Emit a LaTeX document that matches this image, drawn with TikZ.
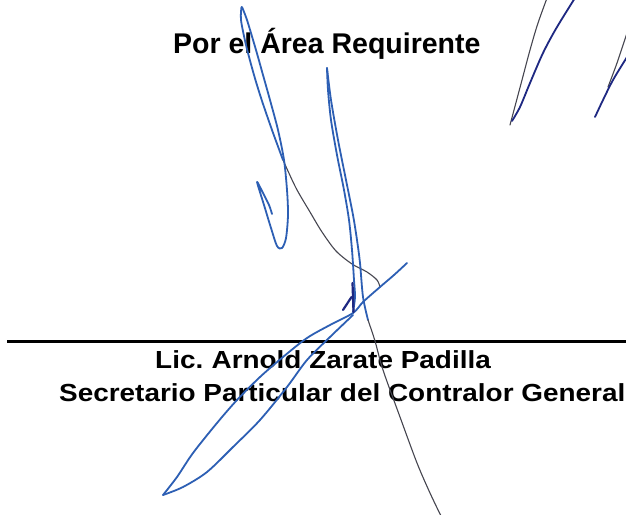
\documentclass[tikz,border=0pt]{standalone}
\usepackage{fontspec}
\setmainfont{Liberation Sans}
\newfontfamily\wideface[FakeStretch=1.13]{Liberation Sans}
\definecolor{inkblue}{RGB}{45,95,180}
\definecolor{inknavy}{RGB}{30,40,130}
\definecolor{inkgrey}{RGB}{70,70,80}
\begin{document}
\begin{tikzpicture}[x=1pt,y=-1pt,
                    ink/.style = {draw=inkblue, line width=1.8pt, line cap=round, line join=round},
                    navy/.style = {draw=inknavy, line width=1.8pt, line cap=round, line join=round},
                    faint/.style = {draw=inkgrey, line width=1.1pt, line cap=round},
                    linetext/.style = {inner sep=0pt, anchor=base west}]
                        \clip (0,0) rectangle (626,514);
                        \fill[white] (0,0) rectangle (626,514);
                        \node[linetext, font=\fontsize{28.5}{30}\selectfont\bfseries] (area) at (173,53.3) {Por el Área Requirente};
                        \node[linetext, font=\wideface\fontsize{24.7}{28}\selectfont\bfseries, xscale=1] (name) at (155,368.5) {Lic.\hspace{-2pt} Arnold Zarate Padilla};
                        \node[linetext, font=\wideface\fontsize{24.7}{28}\selectfont\bfseries] (post) at (59,401) {Secretario Particular del Contralor General};
                        \coordinate (ruleL) at (7,341.7);
                        \coordinate (ruleR) at (630,341.7);
                        \draw[line width=2.7pt] (ruleL) -- (ruleR);

                        \draw[ink] plot[smooth] coordinates {(241.5,7) (241,20) (246,45) (254,75) (261.7,100) (272,130) (283,160)};
                        \draw[faint] plot[smooth] coordinates {(283,160) (296,188) (310,212) (322,232) (336,251) (352,264) (367,272) (377,280) (380,287)};
                        \draw[ink] plot[smooth] coordinates {(242,7) (247,20) (256,50) (263,75) (270,100) (278,130) (284,160) (287,190) (288,215) (286,238) (282,248) (277,246) (271,228) (264,205) (257,182) (262,191) (269,205) (272,214)};
                        \draw[ink] plot[smooth] coordinates {(327,68) (328,90) (331,120) (337,155) (344,190) (349,220) (352,250) (354,280) (355,297) (353,312)};
                        \draw[ink] plot[smooth] coordinates {(327,68) (331,100) (338,140) (346,180) (353,215) (357,240) (360,263) (363,297) (368,320)};
                        \draw[faint] plot[smooth] coordinates {(368,320) (375,341) (383,370) (400,417) (417,463) (430,493) (441,516)};
                        \draw[ink] plot[smooth] coordinates {(407,263) (394,275) (380,287) (363,302) (353,313) (330,325) (307,338) (283,357) (260,377) (237,400) (217,423) (193,453) (177,477) (163,495)};
                        \draw[ink] plot[smooth] coordinates {(163,495) (183,487) (207,472) (233,447) (260,420) (287,387) (307,360) (330,337) (353,315)};
                        \draw[navy, line width=2.2pt] (343,310) -- (351.5,297);
                        \draw[navy, line width=2.2pt] (352.5,283) -- (353.5,312);

                        \draw[faint] plot[smooth] coordinates {(510,125) (514,110) (522,80) (530,50) (538,23) (550,-10)};
                        \draw[navy] plot[smooth] coordinates {(512,121) (520,107) (530,83) (543,53) (557,27) (580,-10)};
                        \draw[faint] plot[smooth] coordinates {(608,87) (617,63) (627,33) (632,18)};
                        \draw[navy] plot[smooth] coordinates {(595,117) (603,100) (613,80) (627,57) (635,44)};
                    \end{tikzpicture}
\end{document}
